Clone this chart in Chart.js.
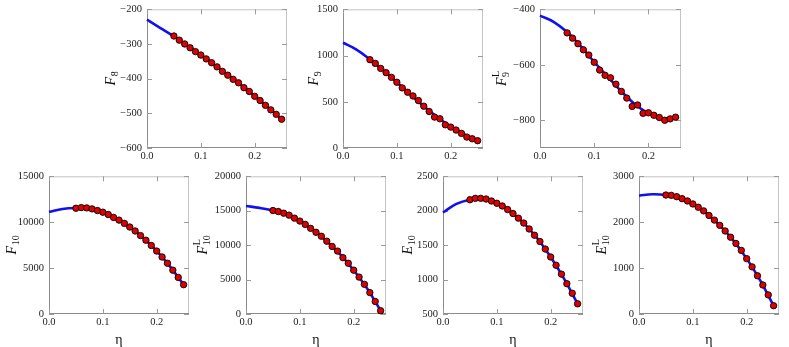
<!DOCTYPE html>
<html>
<head>
<meta charset="utf-8">
<script src="https://cdn.jsdelivr.net/npm/chart.js@4.4.0/dist/chart.umd.min.js"></script>
<style>
  html, body { margin: 0; padding: 0; background: #fff; }
  body { width: 789px; height: 347px; position: relative; overflow: hidden; }
  canvas { position: absolute; }
</style>
</head>
<body>
<script>
// eta values of the computed points and of the fitted curve
const etaDots = [0.05, 0.06, 0.07, 0.08, 0.09, 0.10, 0.11, 0.12, 0.13, 0.14, 0.15,
                 0.16, 0.17, 0.18, 0.19, 0.20, 0.21, 0.22, 0.23, 0.24, 0.25];
const etaCurve = [0, 0.025, 0.05, 0.075, 0.1, 0.125, 0.15, 0.175, 0.2, 0.225, 0.25];
const xTicks = [0, 0.1, 0.2];

// F8
const f8Dots = [-277, -289, -300, -311, -322, -332, -343, -354, -366, -379, -390,
                -402, -412, -426, -437, -451, -463, -477, -490, -503, -517];
const f8Curve = [-230, -254, -278, -305, -332, -360, -389, -419, -450, -483, -517];
const f8Ticks = [-600, -500, -400, -300, -200];

// F9
const f9Dots = [955, 915, 861, 815, 764, 711, 650, 603, 563, 513, 452,
                395, 334, 316, 251, 226, 194, 158, 118, 100, 79];
const f9Curve = [1138, 1065, 958, 840, 711, 580, 452, 335, 232, 148, 82];
const f9Ticks = [0, 500, 1000, 1500];

// F9^L
const f9lDots = [-485, -504, -524, -546, -565, -591, -619, -638, -647, -670, -696,
                 -720, -750, -745, -775, -773, -782, -790, -800, -795, -789];
const f9lCurve = [-423, -445, -482, -533, -590, -643, -696, -742, -775, -795, -792];
const f9lTicks = [-800, -600, -400];

// F10
const f10Dots = [11521, 11593, 11557, 11449, 11269, 11090, 10839, 10516, 10229, 9870, 9475,
                 9044, 8542, 8039, 7465, 6855, 6209, 5527, 4773, 3984, 3194];
const f10Curve = [11126, 11440, 11540, 11500, 11080, 10380, 9470, 8300, 6870, 5160, 3190];
const f10Ticks = [0, 5000, 10000, 15000];

// F10^L
const f10lDots = [15025, 14881, 14642, 14355, 13924, 13494, 13015, 12441, 11867, 11293, 10575,
                  9809, 9139, 8182, 7369, 6364, 5359, 4307, 3110, 1818, 479];
const f10lCurve = [15695, 15410, 15030, 14500, 13500, 12160, 10575, 8660, 6364, 3710, 479];
const f10lTicks = [0, 5000, 10000, 15000, 20000];

// E10
const e10Dots = [2160, 2180, 2180, 2170, 2141, 2108, 2069, 2017, 1959, 1892, 1821,
                 1735, 1644, 1553, 1443, 1328, 1208, 1079, 940, 801, 648];
const e10Curve = [1974, 2100, 2160, 2177, 2108, 1988, 1821, 1600, 1328, 1010, 648];
const e10Ticks = [500, 1000, 1500, 2000, 2500];

// E10^L
const e10lDots = [2592, 2585, 2556, 2513, 2463, 2398, 2326, 2247, 2147, 2046, 1931,
                  1809, 1673, 1537, 1386, 1206, 1027, 833, 632, 416, 180];
const e10lCurve = [2578, 2608, 2592, 2535, 2398, 2197, 1931, 1605, 1206, 733, 180];
const e10lTicks = [0, 1000, 2000, 3000];

const panels = [
  { left: 147, top: 8, w: 140, h: 140, ymin: -600, ymax: -200, ticks: f8Ticks,
    dots: f8Dots, curve: f8Curve, label: ['F', '8', ''], off: 36, eta: false },
  { left: 343, top: 8, w: 140, h: 140, ymin: 0, ymax: 1500, ticks: f9Ticks,
    dots: f9Dots, curve: f9Curve, label: ['F', '9', ''], off: 29, eta: false },
  { left: 540, top: 8, w: 141, h: 140, ymin: -900, ymax: -400, ticks: f9lTicks,
    dots: f9lDots, curve: f9lCurve, label: ['F', '9', 'L'], off: 38, eta: false },
  { left: 49, top: 175, w: 140, h: 139, ymin: 0, ymax: 15000, ticks: f10Ticks,
    dots: f10Dots, curve: f10Curve, label: ['F', '10', ''], off: 37, eta: true },
  { left: 246, top: 175, w: 140, h: 139, ymin: 0, ymax: 20000, ticks: f10lTicks,
    dots: f10lDots, curve: f10lCurve, label: ['F', '10', 'L'], off: 43, eta: true },
  { left: 443, top: 175, w: 140, h: 139, ymin: 500, ymax: 2500, ticks: e10Ticks,
    dots: e10Dots, curve: e10Curve, label: ['E', '10', ''], off: 35, eta: true },
  { left: 639, top: 175, w: 140, h: 139, ymin: 0, ymax: 3000, ticks: e10lTicks,
    dots: e10lDots, curve: e10lCurve, label: ['E', '10', 'L'], off: 37, eta: true }
];

const PADL = 70, PADT = 10, PADR = 10, PADB = 35;
const tickFont = { family: 'Liberation Serif', size: 10.5 };

function pts(xs, ys) {
  return xs.map((x, i) => ({ x: x, y: ys[i] }));
}

function fmtY(v) {
  return v < 0 ? '\u2212' + Math.abs(v) : String(v);
}

// box, inward tick marks and the axis titles
const framePlugin = {
  id: 'frame',
  beforeDatasetsDraw(chart) {
    const ctx = chart.ctx;
    const a = chart.chartArea;
    const xs = chart.scales.x, ys = chart.scales.y;
    ctx.save();
    ctx.lineWidth = 1;
    ctx.strokeStyle = '#c4c4c4';
    ctx.beginPath();
    ctx.moveTo(a.left, a.top + 0.5); ctx.lineTo(a.right, a.top + 0.5);
    ctx.moveTo(a.right - 0.5, a.top); ctx.lineTo(a.right - 0.5, a.bottom);
    ctx.stroke();
    ctx.strokeStyle = '#8c8c8c';
    ctx.beginPath();
    ctx.moveTo(a.left + 0.5, a.top); ctx.lineTo(a.left + 0.5, a.bottom);
    ctx.moveTo(a.left, a.bottom - 0.5); ctx.lineTo(a.right, a.bottom - 0.5);
    ctx.stroke();
    ctx.strokeStyle = '#9a9a9a';
    ctx.beginPath();
    xs.ticks.forEach(t => {
      const px = Math.round(xs.getPixelForValue(t.value)) + 0.5;
      ctx.moveTo(px, a.bottom); ctx.lineTo(px, a.bottom - 5);
      ctx.moveTo(px, a.top); ctx.lineTo(px, a.top + 5);
    });
    ys.ticks.forEach(t => {
      const py = Math.round(ys.getPixelForValue(t.value)) + 0.5;
      ctx.moveTo(a.left, py); ctx.lineTo(a.left + 5, py);
      ctx.moveTo(a.right, py); ctx.lineTo(a.right - 5, py);
    });
    ctx.stroke();
    ctx.restore();
  },
  afterDraw(chart) {
    const p = chart.options.plugins.frame;
    const ctx = chart.ctx;
    const a = chart.chartArea;
    ctx.save();
    ctx.fillStyle = '#111';
    // y title, rotated, with sub and superscript
    ctx.translate(a.left - p.off, (a.top + a.bottom) / 2);
    ctx.rotate(-Math.PI / 2);
    ctx.textBaseline = 'alphabetic';
    ctx.font = 'italic 14px "Liberation Serif"';
    const mw = ctx.measureText(p.label[0]).width;
    ctx.font = '10px "Liberation Serif"';
    const sw = Math.max(ctx.measureText(p.label[1]).width, ctx.measureText(p.label[2]).width);
    const x0 = -(mw + sw) / 2;
    const base = 4;
    ctx.font = 'italic 14px "Liberation Serif"';
    ctx.fillText(p.label[0], x0, base);
    ctx.font = '10px "Liberation Serif"';
    ctx.fillText(p.label[1], x0 + mw + 0.5, base + 3);
    if (p.label[2]) ctx.fillText(p.label[2], x0 + mw + 0.5, base - 7);
    ctx.restore();
    if (p.eta) {
      ctx.save();
      ctx.fillStyle = '#111';
      ctx.font = '14px "Liberation Serif"';
      ctx.textAlign = 'center';
      ctx.textBaseline = 'middle';
      ctx.fillText('\u03b7', (a.left + a.right) / 2, a.bottom + 26);
      ctx.restore();
    }
  }
};

panels.forEach(p => {
  const cv = document.createElement('canvas');
  cv.width = p.w + PADL + PADR;
  cv.height = p.h + PADT + PADB;
  cv.style.left = (p.left - PADL) + 'px';
  cv.style.top = (p.top - PADT) + 'px';
  document.body.appendChild(cv);

  new Chart(cv, {
    type: 'line',
    data: {
      datasets: [
        {
          data: pts(etaDots, p.dots),
          showLine: false,
          pointRadius: 3.2,
          pointBackgroundColor: '#e00000',
          pointBorderColor: '#000',
          pointBorderWidth: 0.9,
          clip: false,
          order: 0
        },
        {
          data: pts(etaCurve, p.curve),
          borderColor: '#1010f0',
          borderWidth: 2.6,
          pointRadius: 0,
          tension: 0.4,
          fill: false,
          clip: false,
          order: 1
        }
      ]
    },
    options: {
      responsive: false,
      animation: false,
      layout: { padding: { left: 0, top: PADT, right: PADR, bottom: 0 } },
      plugins: {
        legend: { display: false },
        tooltip: { enabled: false },
        frame: { label: p.label, off: p.off, eta: p.eta }
      },
      scales: {
        x: {
          type: 'linear',
          min: 0,
          max: 0.26,
          afterBuildTicks: s => { s.ticks = xTicks.map(v => ({ value: v })); },
          afterFit: s => { s.height = PADB; },
          grid: { display: false, drawTicks: false },
          border: { display: false },
          ticks: {
            font: tickFont, color: '#222', padding: 2,
            maxRotation: 0, autoSkip: false,
            callback: v => v.toFixed(1)
          }
        },
        y: {
          type: 'linear',
          min: p.ymin,
          max: p.ymax,
          afterBuildTicks: s => { s.ticks = p.ticks.map(v => ({ value: v })); },
          afterFit: s => { s.width = PADL; },
          grid: { display: false, drawTicks: false },
          border: { display: false },
          ticks: {
            font: tickFont, color: '#222', padding: 5,
            autoSkip: false,
            callback: v => fmtY(v)
          }
        }
      }
    },
    plugins: [framePlugin]
  });
});
</script>
</body>
</html>
